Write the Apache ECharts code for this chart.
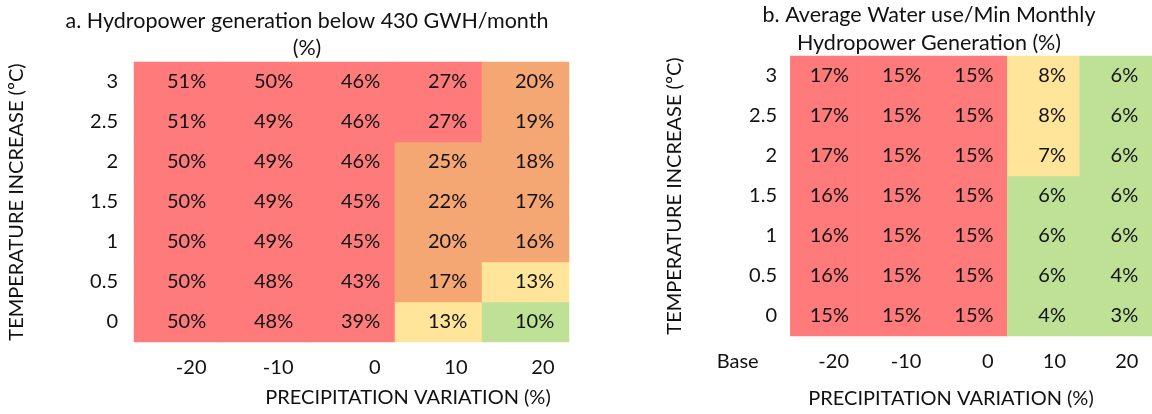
<!DOCTYPE html>
<html><head><meta charset="utf-8">
<script src="https://cdn.jsdelivr.net/npm/echarts@6/dist/echarts.min.js"></script>
<style>html,body{margin:0;padding:0;background:#fff}#c{width:1152px;height:414px}</style>
</head><body><div id="c"></div>
<script>
// ---- data ----
const tempLevels = ['0', '0.5', '1', '1.5', '2', '2.5', '3'];          // y categories, bottom -> top
const precipA = ['-20', '-10', '0', '10', '20'];                       // x categories, chart a
const precipB = ['Base', '-20', '-10', '0', '10', '20'];               // x categories, chart b
// chart a: hydropower generation below 430 GWh/month (%), each list is temp 0 -> 3
const genBelow_m20 = [50, 50, 50, 50, 50, 51, 51];
const genBelow_m10 = [48, 48, 49, 49, 49, 49, 50];
const genBelow_0   = [39, 43, 45, 45, 46, 46, 46];
const genBelow_10  = [13, 17, 20, 22, 25, 27, 27];
const genBelow_20  = [10, 13, 16, 17, 18, 19, 20];
// chart b: average water use / min monthly hydropower generation (%), temp 0 -> 3
const water_m20 = [15, 16, 16, 16, 17, 17, 17];
const water_m10 = [15, 15, 15, 15, 15, 15, 15];
const water_0   = [15, 15, 15, 15, 15, 15, 15];
const water_10  = [4, 6, 6, 6, 7, 8, 8];
const water_20  = [3, 4, 6, 6, 6, 6, 6];

const colsA = [genBelow_m20, genBelow_m10, genBelow_0, genBelow_10, genBelow_20];
const colsB = [water_m20, water_m10, water_0, water_10, water_20];

const dataA = [];
colsA.forEach((col, ci) => col.forEach((v, ri) => dataA.push([ci, ri, v])));
const dataB = [];
colsB.forEach((col, ci) => col.forEach((v, ri) => dataB.push([ci + 1, ri, v])));

// ---- style ----
const FONT = 'Lato';
const FS = 20;
const TFS = 21.5;
const TXT = '#111';
const RED = '#FF7B7B', ORANGE = '#F4A673', YELLOW = '#FFE599', GREEN = '#BEE196';

function xAxisCfg(cats, gridIndex, boxW, baseW) {
  return {
    type: 'category', data: cats, gridIndex,
    axisLine: { show: false }, axisTick: { show: false },
    splitLine: { show: false }, splitArea: { show: false },
    axisLabel: {
      margin: 16, interval: 0,
      formatter: v => v === 'Base' ? '{l|' + v + '}' : '{r|' + v + '}',
      rich: {
        r: { width: boxW, align: 'right', fontFamily: FONT, fontSize: FS, color: TXT },
        l: { width: baseW, align: 'left', fontFamily: FONT, fontSize: FS, color: TXT }
      }
    }
  };
}
function yAxisCfg(gridIndex, offset, nameGap) {
  return {
    type: 'category', data: tempLevels, gridIndex, offset,
    axisLine: { show: false }, axisTick: { show: false },
    splitLine: { show: false }, splitArea: { show: false },
    axisLabel: { margin: 16, fontFamily: FONT, fontSize: FS, color: TXT },
    name: 'TEMPERATURE INCREASE (ºC)', nameLocation: 'middle', nameRotate: 90, nameGap,
    nameTextStyle: { fontFamily: FONT, fontSize: FS, color: TXT }
  };
}
function cellLabel(dist) {
  return {
    show: true, position: 'insideRight', distance: dist,
    formatter: p => p.value[2] + '%',
    fontFamily: FONT, fontSize: FS, color: TXT
  };
}
function gtext(text, x, y, size) {
  return { type: 'text', x, y, style: { text, align: 'center', verticalAlign: 'middle',
    font: size + 'px ' + FONT, fill: TXT } };
}

const chart = echarts.init(document.getElementById('c'), null, { renderer: 'canvas' });
chart.setOption({
  animation: false,
  backgroundColor: '#fff',
  grid: [
    { left: 134, top: 62, width: 435, height: 280 },
    { left: 718, top: 56, width: 438, height: 280 }
  ],
  xAxis: [xAxisCfg(precipA, 0, 58, 60), xAxisCfg(precipB, 1, 45, 75)],
  yAxis: [yAxisCfg(0, 0, 107), yAxisCfg(1, -75, 108)],
  visualMap: [
    { type: 'piecewise', show: false, seriesIndex: 0, dimension: 2,
      pieces: [{ gte: 26, color: RED }, { gte: 14, lt: 26, color: ORANGE },
               { gte: 11, lt: 14, color: YELLOW }, { lt: 11, color: GREEN }] },
    { type: 'piecewise', show: false, seriesIndex: 1, dimension: 2,
      pieces: [{ gte: 15, color: RED }, { gte: 7, lt: 15, color: YELLOW },
               { lt: 7, color: GREEN }] }
  ],
  series: [
    { type: 'heatmap', xAxisIndex: 0, yAxisIndex: 0, data: dataA, label: cellLabel(15),
      itemStyle: { borderWidth: 0 }, emphasis: { disabled: true } },
    { type: 'heatmap', xAxisIndex: 1, yAxisIndex: 1, data: dataB, label: cellLabel(14),
      itemStyle: { borderWidth: 0 }, emphasis: { disabled: true } }
  ],
  graphic: [
    gtext('a. Hydropower generation below 430 GWH/month', 307, 21, TFS),
    gtext('(%)', 307, 48, TFS),
    gtext('b. Average Water use/Min Monthly', 929, 15, TFS),
    gtext('Hydropower Generation (%)', 929, 43, TFS),
    gtext('PRECIPITATION VARIATION (%)', 408, 398, FS),
    gtext('PRECIPITATION VARIATION (%)', 951, 399, FS)
  ]
});
</script></body></html>
